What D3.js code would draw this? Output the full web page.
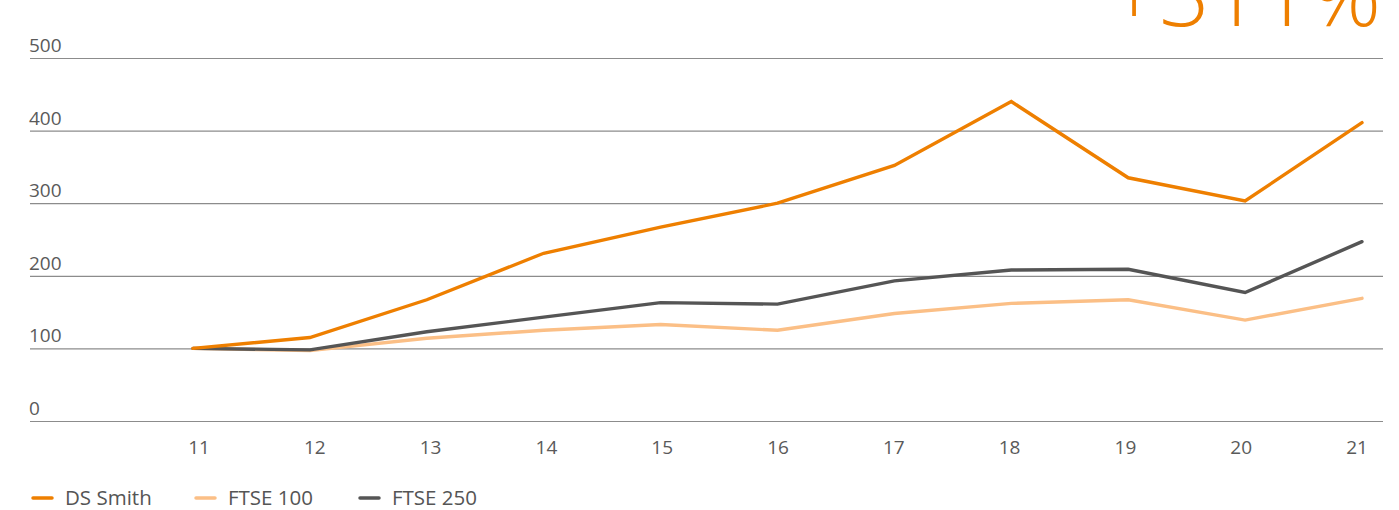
<!DOCTYPE html>
<html>
<head>
<meta charset="utf-8">
<script src="https://cdn.jsdelivr.net/npm/d3@7"></script>
<style>
  body { margin: 0; background: #fff; }
  text { font-family: "Open Sans", sans-serif; }
</style>
</head>
<body>
<div id="chart"></div>
<script>
var width = 1399,
    height = 510;

var years = ["11", "12", "13", "14", "15", "16", "17", "18", "19", "20", "21"];
var dsSmith = [100, 115, 167, 231, 267, 300, 352, 440, 335, 303, 411];
var ftse100 = [100, 97, 114, 125, 133, 125, 148, 162, 167, 139, 169];
var ftse250 = [100, 98, 123, 143, 163, 161, 193, 208, 209, 177, 247];
var yTicks = [0, 100, 200, 300, 400, 500];
var seriesNames = ["DS Smith", "FTSE 100", "FTSE 250"];
var headline = "+311%";

var colors = ["#ee7f00", "#fbbf86", "#555555"];
var series = [dsSmith, ftse100, ftse250];

var svg = d3.select("#chart").append("svg")
  .attr("width", width)
  .attr("height", height);

var x = d3.scalePoint()
  .domain(years)
  .range([193, 1362]);

// tick labels sit on a slightly narrower band than the points
var xLabel = d3.scalePoint()
  .domain(years)
  .range([199, 1357]);

var y = d3.scaleLinear()
  .domain([0, 500])
  .range([421, 58]);

// grid + y labels
var grid = svg.append("g");
grid.selectAll("line")
  .data(yTicks)
  .enter().append("line")
  .attr("x1", 30)
  .attr("x2", 1383)
  .attr("y1", function(d){ return y(d) + 0.5 })
  .attr("y2", function(d){ return y(d) + 0.5 })
  .attr("stroke", "#8c8c8c")
  .attr("stroke-width", 1.2);

grid.selectAll("text")
  .data(yTicks)
  .enter().append("text")
  .attr("x", 29)
  .attr("y", function(d){ return y(d) - 6 })
  .attr("fill", "#5a5a5a")
  .style("font-size", "19px")
  .text(function(d){ return d });

// x labels
svg.append("g").selectAll("text")
  .data(years)
  .enter().append("text")
  .attr("x", function(d){ return xLabel(d) })
  .attr("y", 454)
  .attr("text-anchor", "middle")
  .attr("fill", "#5a5a5a")
  .style("font-size", "19px")
  .text(function(d){ return d });

// lines, DS Smith on top
var line = d3.line()
  .x(function(d, i){ return x(years[i]) })
  .y(function(d){ return y(d) });

var order = [1, 2, 0];
svg.append("g").selectAll("path")
  .data(order)
  .enter().append("path")
  .attr("d", function(k){ return line(series[k]) })
  .attr("fill", "none")
  .attr("stroke", function(k){ return colors[k] })
  .attr("stroke-width", 3.4)
  .attr("stroke-linejoin", "miter")
  .attr("stroke-linecap", "round");

// legend
var legendX = [33, 196, 360];
var legend = svg.append("g").selectAll("g")
  .data(seriesNames)
  .enter().append("g")
  .attr("transform", function(d, i){ return "translate(" + legendX[i] + ",498)" });

legend.append("line")
  .attr("x1", 0)
  .attr("x2", 19)
  .attr("stroke", function(d, i){ return colors[i] })
  .attr("stroke-width", 3.5)
  .attr("stroke-linecap", "round");

legend.append("text")
  .attr("x", 32)
  .attr("y", 7)
  .attr("fill", "#555")
  .style("font-size", "20.5px")
  .text(function(d){ return d });

// headline figure, cut by the top edge
svg.append("text")
  .attr("x", 1381)
  .attr("y", 26)
  .attr("text-anchor", "end")
  .attr("fill", "#ee7f00")
  .style("font-size", "88px")
  .style("font-weight", 300)
  .text(headline);
</script>
</body>
</html>
